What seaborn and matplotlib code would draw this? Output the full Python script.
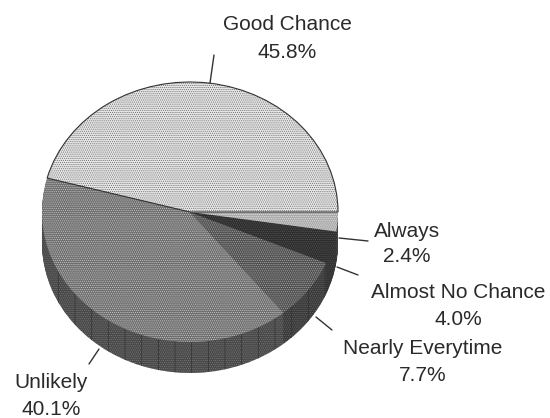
import matplotlib
matplotlib.use("Agg")
import matplotlib.pyplot as plt
import seaborn as sns
from matplotlib.lines import Line2D

categories = ["Good Chance", "Unlikely", "Nearly Everytime", "Almost No Chance", "Always"]
values = [45.8, 40.1, 7.7, 4.0, 2.4]
top_colors = ["#e6e6e6", "#6e6e6e", "#505050", "#2c2c2c", "#a8a8a8"]
top_dots = ["#707070", "#c8c8c8", "#a8a8a8", "#5a5a5a", "#e8e8e8"]
side_colors = ["#5e5e5e", "#484848", "#3a3a3a", "#303030", "#383838"]
side_dots = ["#808080", "#808080", "#707070", "#606060", "#707070"]
streak_color = "#303030"

W, H = 550, 418
CX, CY, RX, RY, DEPTH = 190, 212, 148, 130, 31

sns.set_theme(style="white")
plt.rcParams["font.family"] = ["Liberation Sans", "DejaVu Sans"]
plt.rcParams["hatch.linewidth"] = 0.5

fig = plt.figure(figsize=(W / 100, H / 100), dpi=100, facecolor="white")
ax = fig.add_axes([0, 0, 1, 1])

for k in range(DEPTH, 0, -1):
    wedges, _ = ax.pie(values, colors=sns.color_palette(side_colors), startangle=0,
                       counterclock=True, center=(0, -k / RY),
                       wedgeprops=dict(linewidth=0))
    for w, hc in zip(wedges, side_dots):
        w.set_hatch("........")
        w.set_edgecolor(hc)
        w.set_linewidth(0)
    streaks, _ = ax.pie(values, startangle=0, counterclock=True, center=(0, -k / RY),
                        wedgeprops=dict(linewidth=0, fill=False))
    for w in streaks:
        w.set_hatch("|")
        w.set_edgecolor(streak_color)
        w.set_linewidth(0)

wedges, _ = ax.pie(values, colors=sns.color_palette(top_colors), startangle=0,
                   counterclock=True, center=(0, 0), wedgeprops=dict(linewidth=0))
for w, hc in zip(wedges, top_dots):
    w.set_hatch("........")
    w.set_edgecolor(hc)
    w.set_linewidth(0)

outline, _ = ax.pie(values, startangle=0, counterclock=True, center=(0, 0),
                    wedgeprops=dict(fill=False, linewidth=0.8, edgecolor="#333333"))
for w in outline[1:]:
    w.set_visible(False)

ax.set_aspect("auto")
ax.set_xlim(-CX / RX, (W - CX) / RX)
ax.set_ylim(-(H - CY) / RY, CY / RY)
ax.axis("off")


def fx(px):
    return px / W


def fy(py):
    return 1 - py / H


labels = [
    ("Good Chance\n45.8%", 287, 38, 1.6),
    ("Always\n2.4%", 407, 244, 1.42),
    ("Almost No Chance\n4.0%", 458, 306, 1.47),
    ("Nearly Everytime\n7.7%", 423, 362, 1.47),
    ("Unlikely\n40.1%", 51, 396, 1.5),
]
for text, x, y, ls in labels:
    fig.text(fx(x), fy(y), text, ha="center", va="center", fontsize=15,
             color="#2a2a2a", linespacing=ls)

leaders = [
    ((210, 83), (214, 55)),
    ((339, 238), (368, 241)),
    ((337, 267), (358, 275)),
    ((316, 317), (332, 330)),
    ((99, 349), (89, 364)),
]
for (x0, y0), (x1, y1) in leaders:
    fig.add_artist(Line2D([fx(x0), fx(x1)], [fy(y0), fy(y1)], color="#333333",
                          linewidth=1.0, transform=fig.transFigure))

fig.savefig("out.png", dpi=100, facecolor="white")
